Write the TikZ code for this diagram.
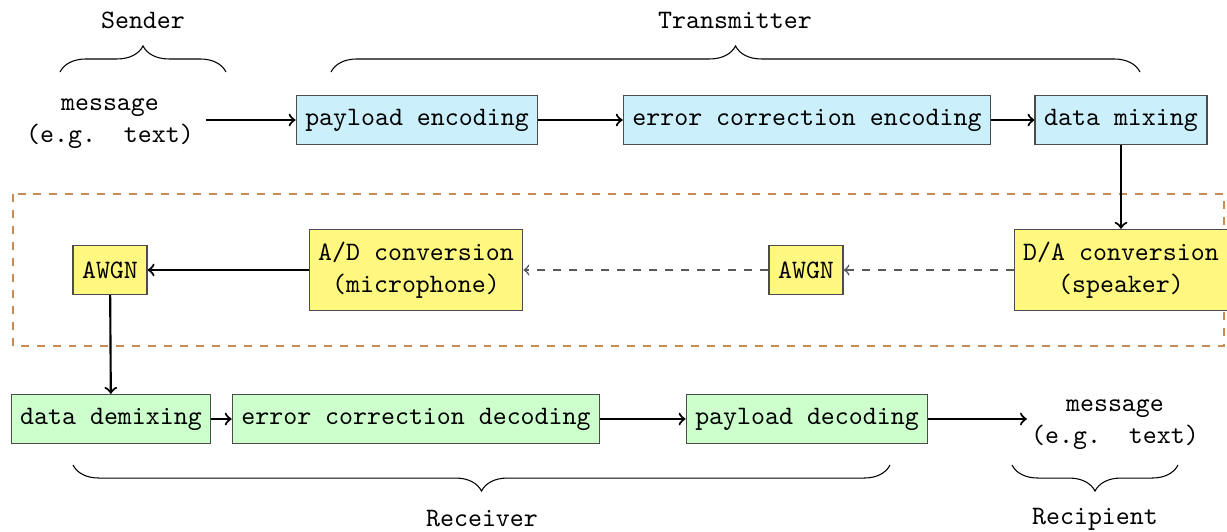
\documentclass[tikz,border=0pt]{standalone}
\usetikzlibrary{decorations.pathreplacing}
\begin{document}
\begin{tikzpicture}[x=0.3759pt, y=-0.3759pt,
  font=\ttfamily,
  block/.style={draw=black!70, line width=0.5pt, inner xsep=3.4pt, minimum height=18.4pt},
  tallblock/.style={block, minimum height=30.5pt, align=center},
  txblock/.style={block, fill=cyan!20},
  chblock/.style={block, fill=yellow!50},
  chtall/.style={tallblock, fill=yellow!50},
  rxblock/.style={block, fill=green!20},
  plain/.style={align=center, inner sep=0pt},
  flow/.style={->, thick, black},
  air/.style={->, dashed, black!65, semithick},
  channel/.style={draw=brown!90, dashed, thin},
  group/.style={decorate, decoration={brace, amplitude=9.8pt}, thin}
]
\useasboundingbox (0,0) rectangle (1227,531);

% acoustic channel region
\draw[channel] (13,194) rectangle (1224,346);

% transmitter chain
\node[plain] (msgin) at (110,124) {message\\(e.g.\ \ text)};
\node[txblock] (penc) at (417,120) {payload encoding};
\node[txblock] (eenc) at (807,120) {error correction encoding};
\node[txblock] (mix) at (1121,120) {data mixing};

% channel
\node[chtall] (da) at (1121,270) {D/A conversion\\(speaker)};
\node[chblock] (noise1) at (806,270) {AWGN};
\node[chtall] (ad) at (416,270) {A/D conversion\\(microphone)};
\node[chblock] (noise2) at (110,270) {AWGN};

% receiver chain
\node[rxblock] (demix) at (111,419) {data demixing};
\node[rxblock] (edec) at (416,419) {error correction decoding};
\node[rxblock] (pdec) at (807,419) {payload decoding};
\node[plain] (msgout) at (1115,425) {message\\(e.g.\ \ text)};

% connectors
\draw[flow] ([xshift=1.5mm]msgin.east |- penc) -- (penc);
\draw[flow] (penc) -- (eenc);
\draw[flow] (eenc) -- (mix);
\draw[flow] (mix) -- (da);
\draw[air] (da) -- (noise1);
\draw[air] (noise1) -- (ad);
\draw[flow] (ad) -- (noise2);
\draw[flow] (noise2) -- (demix);
\draw[flow] (demix) -- (edec);
\draw[flow] (edec) -- (pdec);
\draw[flow] (pdec) -- ([xshift=-0.5mm]msgout.west |- pdec);

% group braces and labels
\coordinate (sa) at (60,72);   \coordinate (sb) at (226,72);
\coordinate (ta) at (331,72);  \coordinate (tb) at (1140,72);
\coordinate (ra) at (890,465); \coordinate (rb) at (73,465);
\coordinate (pa) at (1178,465);\coordinate (pb) at (1012,465);
\draw[group] (sa) -- (sb);
\draw[group] (ta) -- (tb);
\draw[group] (ra) -- (rb);
\draw[group] (pa) -- (pb);
\node (sender) at (143,20) {Sender};
\node (transmitter) at (735,20) {Transmitter};
\node (receiver) at (482,519) {Receiver};
\node (recipient) at (1095,519) {Recipient};
\end{tikzpicture}
\end{document}
